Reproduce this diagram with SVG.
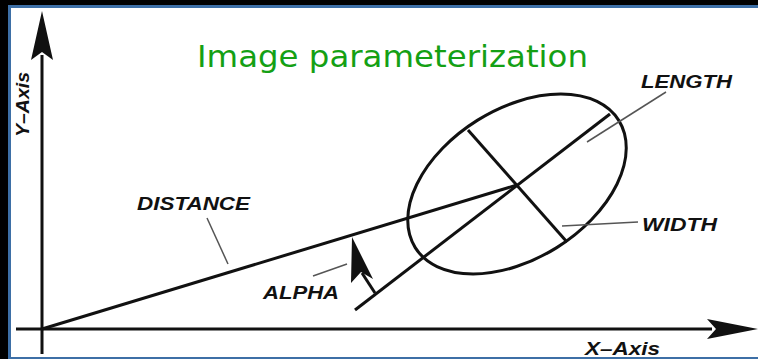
<svg xmlns="http://www.w3.org/2000/svg" width="758" height="359" viewBox="0 0 758 359">
<style>
.ln{stroke:#111;stroke-width:3;fill:none;stroke-linecap:butt}
.ld{stroke:#555;stroke-width:1.5;fill:none}
.lbl{font-family:"Liberation Sans",Arial,sans-serif;font-weight:bold;font-style:italic;font-size:18px;fill:#111}
.ttl{font-family:"DejaVu Sans","Noto Sans",sans-serif;font-size:31px;fill:#14a014}
.ah{fill:#111;stroke:none}
</style>
<rect x="0" y="0" width="758" height="359" fill="#000"/>
<rect x="8" y="5" width="750" height="354" fill="#3d6fa6"/>
<rect x="11" y="8" width="747" height="349" fill="#fff"/>
<text class="ttl" x="197" y="67" textLength="391" lengthAdjust="spacingAndGlyphs">Image parameterization</text>
<g id="axes">
<line class="ln" x1="42" y1="354" x2="42" y2="55"/>
<polygon class="ah" points="42,11 53,60 42,52 31,60"/>
<line class="ln" x1="16" y1="329" x2="712" y2="329"/>
<polygon class="ah" points="758,329 707,319 716,329 707,339"/>
<text class="lbl" transform="translate(29,137) rotate(-90)" x="0" y="0" textLength="65" lengthAdjust="spacingAndGlyphs">Y–Axis</text>
<text class="lbl" x="585" y="355" textLength="75" lengthAdjust="spacingAndGlyphs">X–Axis</text>
</g>
<g id="ellipse">
<ellipse class="ln" cx="517" cy="184" rx="120" ry="75" transform="rotate(-32 517 184)"/>
</g>
<g id="connectors">
<line class="ln" x1="42" y1="329" x2="517" y2="185"/>
<line class="ln" x1="610" y1="114" x2="355" y2="310"/>
<line class="ln" x1="468" y1="130" x2="567" y2="242"/>
<line class="ln" x1="375" y1="293" x2="362" y2="273"/>
<polygon class="ah" points="352,237 373,279 361,272 351,283"/>
<line class="ld" x1="207" y1="218" x2="228" y2="264"/>
<line class="ld" x1="666" y1="92" x2="587" y2="142"/>
<line class="ld" x1="562" y1="226" x2="638" y2="222"/>
<line class="ld" x1="313" y1="276" x2="347" y2="264"/>
</g>
<g id="label-distance"><text class="lbl" x="137" y="210" textLength="113" lengthAdjust="spacingAndGlyphs">DISTANCE</text></g>
<g id="label-length"><text class="lbl" x="641" y="88" textLength="91" lengthAdjust="spacingAndGlyphs">LENGTH</text></g>
<g id="label-width"><text class="lbl" x="642" y="231" textLength="75" lengthAdjust="spacingAndGlyphs">WIDTH</text></g>
<g id="label-alpha"><text class="lbl" x="263" y="299" textLength="76" lengthAdjust="spacingAndGlyphs">ALPHA</text></g>
</svg>
